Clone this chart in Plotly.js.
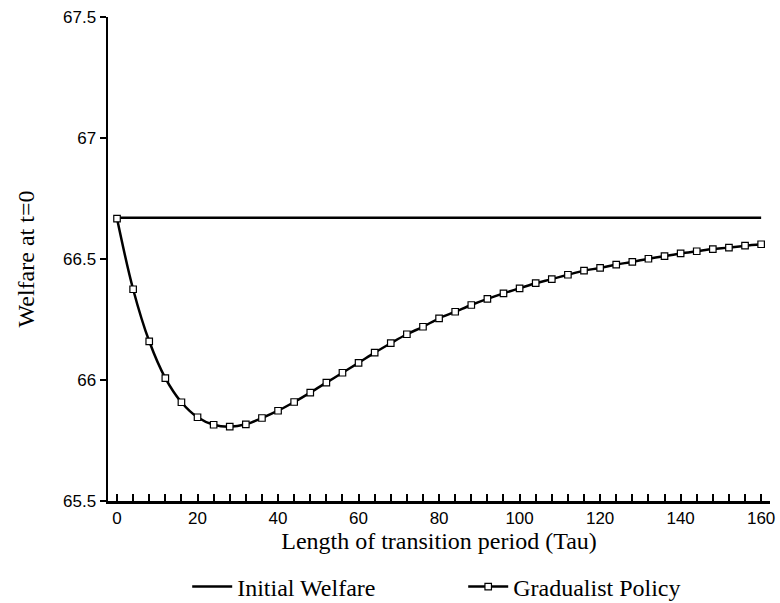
<!DOCTYPE html>
<html>
<head>
<meta charset="utf-8">
<script src="https://cdn.plot.ly/plotly-3.0.1.min.js"></script>
<style>html,body{margin:0;padding:0;background:#fff;}#chart{width:780px;height:603px;}</style>
</head>
<body>
<div id="chart"></div>
<script>
var tau = [0,4,8,12,16,20,24,28,32,36,40,44,48,52,56,60,64,68,72,76,80,84,88,92,96,100,104,108,112,116,120,124,128,132,136,140,144,148,152,156,160];
var gradualist = [66.667,66.375,66.160,66.008,65.908,65.846,65.815,65.807,65.817,65.843,65.873,65.909,65.948,65.989,66.030,66.071,66.113,66.152,66.189,66.220,66.255,66.282,66.310,66.335,66.358,66.379,66.400,66.417,66.435,66.452,66.463,66.477,66.488,66.501,66.512,66.523,66.532,66.541,66.547,66.555,66.561];
var initialTau = [0,160];
var initialWelfare = [66.67,66.67];
var xTickVals = [0,20,40,60,80,100,120,140,160];
var yTickVals = [65.5,66,66.5,67,67.5];
var yTickText = ['65.5','66','66.5','67','67.5'];

var serif = 'Liberation Serif, Times New Roman, serif';
var sans = 'Liberation Sans, Arial, sans-serif';
var traces = [
  {x: initialTau, y: initialWelfare, type:'scatter', mode:'lines', name:'Initial Welfare',
   line:{color:'#000', width:2.5}},
  {x: tau, y: gradualist, type:'scatter', mode:'lines+markers', name:'Gradualist Policy',
   line:{color:'#000', width:2.5, shape:'spline'},
   marker:{symbol:'square', size:6.5, color:'#fff', line:{color:'#000', width:1.2}}}
];
var layout = {
  width:780, height:603,
  margin:{l:108, r:10, t:17, b:102},
  paper_bgcolor:'#fff', plot_bgcolor:'#fff',
  showlegend:true,
  legend:{orientation:'h', xref:'container', yref:'container', x:0.24, xanchor:'left', y:16/603, yanchor:'middle',
          font:{family:serif, size:24, color:'#000'},
          itemwidth:40, entrywidth:221, entrywidthmode:'pixels', tracegroupgap:0},
  xaxis:{range:[-2.24,162.2], tickvals:xTickVals, ticks:'inside', ticklen:7, tickwidth:2, tickcolor:'#000',
         minor:{dtick:4, tick0:0, ticks:'inside', ticklen:7, tickwidth:2, tickcolor:'#000', showgrid:false},
         showline:true, linecolor:'#000', linewidth:2.5, showgrid:false, zeroline:false, automargin:false,
         tickfont:{family:sans, size:17, color:'#000'},
         title:{text:'Length of transition period (Tau)', standoff:5,
                font:{family:serif, size:24, color:'#000'}}},
  yaxis:{range:[65.5,67.5], tickvals:yTickVals, ticktext:yTickText, ticks:'outside', ticklen:6, tickwidth:2, tickcolor:'#000',
         showline:true, linecolor:'#000', linewidth:2.5, showgrid:false, zeroline:false, automargin:false,
         tickfont:{family:sans, size:17, color:'#000'},
         title:{text:'Welfare at t=0', standoff:22,
                font:{family:serif, size:24, color:'#000'}}}
};
Plotly.newPlot('chart', traces, layout, {displayModeBar:false, staticPlot:true});
</script>
</body>
</html>
